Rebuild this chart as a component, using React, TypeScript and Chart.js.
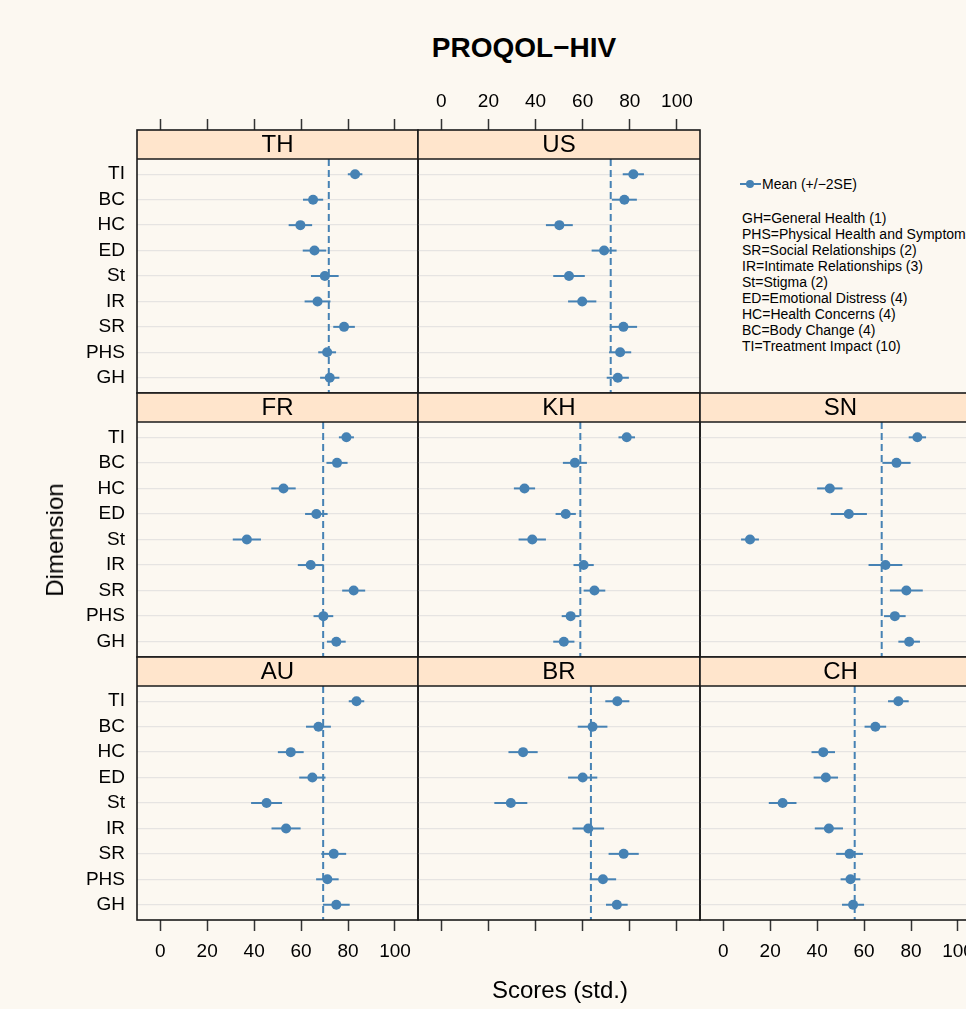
import React, { useEffect, useRef } from 'react';
import { Chart, registerables } from 'chart.js';

Chart.register(...registerables);

// ---------------- data ----------------
const categories = ['GH', 'PHS', 'SR', 'IR', 'St', 'ED', 'HC', 'BC', 'TI'];
const xTickValues = [0, 20, 40, 60, 80, 100];

const countries = ['TH', 'US', 'FR', 'KH', 'SN', 'AU', 'BR', 'CH'];

const meanTH = [72.2, 71.1, 78.3, 67.0, 70.1, 65.7, 59.7, 65.1, 83.0];
const errTH = [4.1, 3.8, 4.6, 5.5, 5.9, 5.0, 5.0, 4.3, 3.1];

const meanUS = [74.9, 75.9, 77.3, 59.8, 54.2, 69.1, 50.1, 77.7, 81.5];
const errUS = [4.7, 4.7, 5.8, 6.0, 6.7, 5.3, 5.7, 5.3, 4.5];

const meanFR = [75.0, 69.5, 82.4, 64.1, 36.9, 66.5, 52.5, 75.3, 79.3];
const errFR = [4.0, 4.2, 4.9, 5.5, 6.0, 4.8, 5.2, 4.5, 3.2];

const meanKH = [52.0, 54.9, 65.0, 60.4, 38.6, 52.8, 35.3, 56.7, 78.7];
const errKH = [4.5, 3.8, 4.6, 4.3, 5.8, 4.3, 4.5, 5.1, 3.5];

const meanSN = [79.2, 73.1, 78.0, 69.1, 11.4, 53.5, 45.4, 73.8, 82.7];
const errSN = [4.6, 4.6, 7.0, 7.2, 3.8, 7.7, 5.4, 6.0, 3.7];

const meanAU = [75.0, 71.2, 73.9, 53.6, 45.3, 64.8, 55.6, 67.4, 83.6];
const errAU = [5.7, 4.8, 5.3, 6.2, 6.6, 5.6, 5.5, 5.3, 3.3];

const meanBR = [74.5, 68.6, 77.4, 62.4, 29.5, 60.0, 34.7, 64.2, 74.7];
const errBR = [4.6, 5.6, 6.4, 6.7, 7.0, 6.2, 6.2, 6.3, 5.1];

const meanCH = [55.3, 54.2, 53.8, 45.0, 25.3, 43.7, 42.6, 64.8, 74.6];
const errCH = [4.7, 4.2, 5.7, 6.0, 5.9, 5.2, 5.0, 4.6, 4.4];

// overall mean (dashed reference line), in the order of `countries`
const refLines = [71.8, 71.9, 69.4, 59.0, 67.5, 69.4, 63.5, 56.0];

const legendTitle = 'Mean (+/\u22122SE)';
const legendLines = [
  'GH=General Health (1)',
  'PHS=Physical Health and Symptoms',
  'SR=Social Relationships (2)',
  'IR=Intimate Relationships (3)',
  'St=Stigma (2)',
  'ED=Emotional Distress (4)',
  'HC=Health Concerns (4)',
  'BC=Body Change (4)',
  'TI=Treatment Impact (10)',
];

const titleText = 'PROQOL\u2212HIV';
const xTitle = 'Scores (std.)';
const yTitle = 'Dimension';

// ---------------- style / layout ----------------
const FONT = '"Liberation Sans", Arial, Helvetica, sans-serif';
const BG = '#fcf8f1';
const BLUE = '#4682b4';
const STRIP_BG = '#ffe5cc';
const COL_LEFT = [137, 418, 700];
const COL_W = [281, 282, 281];
const ROW_TOP = [130, 393, 657];
const ROW_H = [263, 264, 263];
const STRIP = 29;
const PAD = 3;
const X_MIN = -9.9;
const X_MAX = 109.8;

Chart.defaults.font.family = FONT;

type AxisPos = 'top' | 'bottom' | null;

interface PanelProps {
  name: string;
  means: number[];
  errs: number[];
  refValue: number;
  col: number;
  row: number;
  xAxis: AxisPos;
  xLabels: boolean;
  yLabels: boolean;
}

function Panel(p: PanelProps) {
  const ref = useRef<HTMLCanvasElement>(null);
  const padL = p.yLabels ? 117 : 0;
  const padT = p.xAxis === 'top' ? 45 : 0;
  const padB = p.xAxis === 'bottom' ? 45 : 0;
  const cw = COL_W[p.col];
  const ch = ROW_H[p.row];
  const W = padL + cw + 2 * PAD;
  const H = padT + ch + padB + 2 * PAD;
  const left = COL_LEFT[p.col] - padL - PAD;
  const top = ROW_TOP[p.row] - padT - PAD;

  useEffect(() => {
    const yMax = 9.6 + (STRIP * 9.2) / (ch - STRIP);
    const zeroPad = (s: any) => {
      s.paddingTop = 0;
      s.paddingBottom = 0;
      s.paddingLeft = 0;
      s.paddingRight = 0;
    };
    const deco = {
      id: 'panelDeco',
      beforeDatasetsDraw(chart: any) {
        const { ctx, scales } = chart;
        const x = scales.x;
        const y = scales.y;
        const yTop = y.getPixelForValue(9.6);
        const yBot = y.getPixelForValue(0.4);
        ctx.save();
        ctx.strokeStyle = BLUE;
        ctx.lineWidth = 2;
        ctx.setLineDash([7, 4]);
        const rx = x.getPixelForValue(p.refValue);
        ctx.beginPath();
        ctx.moveTo(rx, yTop);
        ctx.lineTo(rx, yBot);
        ctx.stroke();
        ctx.setLineDash([]);
        p.means.forEach((m, i) => {
          const py = y.getPixelForValue(i + 1);
          ctx.beginPath();
          ctx.moveTo(x.getPixelForValue(m - p.errs[i]), py);
          ctx.lineTo(x.getPixelForValue(m + p.errs[i]), py);
          ctx.stroke();
        });
        ctx.restore();
      },
      afterDraw(chart: any) {
        const { ctx, chartArea: a } = chart;
        ctx.save();
        ctx.fillStyle = STRIP_BG;
        ctx.fillRect(a.left, a.top, a.right - a.left, STRIP);
        ctx.fillStyle = '#000';
        ctx.font = `24px ${FONT}`;
        ctx.textAlign = 'center';
        ctx.textBaseline = 'middle';
        ctx.fillText(p.name, (a.left + a.right) / 2, a.top + STRIP / 2 + 1);
        ctx.strokeStyle = '#1a1a1a';
        ctx.lineWidth = 1.6;
        ctx.strokeRect(a.left, a.top, a.right - a.left, a.bottom - a.top);
        ctx.beginPath();
        ctx.moveTo(a.left, a.top + STRIP);
        ctx.lineTo(a.right, a.top + STRIP);
        ctx.stroke();
        ctx.restore();
      },
    };

    const chart = new Chart(ref.current as HTMLCanvasElement, {
      type: 'scatter',
      data: {
        datasets: [
          {
            data: p.means.map((m, i) => ({ x: m, y: i + 1 })),
            backgroundColor: BLUE,
            borderColor: BLUE,
            borderWidth: 0,
            pointRadius: 5,
            pointHoverRadius: 5,
          },
        ],
      },
      options: {
        animation: false,
        responsive: false,
        maintainAspectRatio: false,
        events: [],
        layout: { padding: PAD, autoPadding: false },
        plugins: {
          legend: { display: false },
          tooltip: { enabled: false },
          title: { display: false },
        },
        scales: {
          x: {
            type: 'linear',
            min: X_MIN,
            max: X_MAX,
            bounds: 'data',
            position: p.xAxis || 'bottom',
            display: !!p.xAxis,
            afterBuildTicks: (s: any) => {
              s.ticks = xTickValues.map((v) => ({ value: v }));
            },
            afterFit: (s: any) => {
              s.height = p.xAxis === 'top' ? padT : padB;
              zeroPad(s);
            },
            grid: {
              drawOnChartArea: false,
              drawTicks: true,
              tickLength: 11,
              tickColor: '#333',
              tickWidth: 1.5,
            },
            border: { display: false },
            ticks: {
              display: p.xLabels,
              padding: p.xAxis === 'top' ? 6 : 9,
              color: '#000',
              font: { size: 19, family: FONT },
              maxRotation: 0,
              minRotation: 0,
              autoSkip: false,
              callback: (v: any) => String(v),
            },
          },
          y: {
            type: 'linear',
            min: 0.4,
            max: yMax,
            bounds: 'data',
            position: 'left',
            display: true,
            afterBuildTicks: (s: any) => {
              s.ticks = categories.map((_, i) => ({ value: i + 1 }));
            },
            afterFit: (s: any) => {
              s.width = padL;
              zeroPad(s);
            },
            grid: {
              drawOnChartArea: true,
              drawTicks: false,
              color: '#e6e4e2',
              lineWidth: 1.3,
            },
            border: { display: false },
            ticks: {
              display: p.yLabels,
              padding: 12,
              color: '#000',
              font: { size: 19, family: FONT },
              autoSkip: false,
              callback: (v: any) => categories[Math.round(Number(v)) - 1],
            },
          },
        },
      },
      plugins: [deco],
    } as any);
    return () => chart.destroy();
  }, []);

  return (
    <canvas
      ref={ref}
      width={W}
      height={H}
      style={{ position: 'absolute', left, top, width: W, height: H }}
    />
  );
}

const panelDefs: Omit<PanelProps, 'refValue'>[] = [
  { name: countries[0], means: meanTH, errs: errTH, col: 0, row: 0, xAxis: 'top', xLabels: false, yLabels: true },
  { name: countries[1], means: meanUS, errs: errUS, col: 1, row: 0, xAxis: 'top', xLabels: true, yLabels: false },
  { name: countries[2], means: meanFR, errs: errFR, col: 0, row: 1, xAxis: null, xLabels: false, yLabels: true },
  { name: countries[3], means: meanKH, errs: errKH, col: 1, row: 1, xAxis: null, xLabels: false, yLabels: false },
  { name: countries[4], means: meanSN, errs: errSN, col: 2, row: 1, xAxis: null, xLabels: false, yLabels: false },
  { name: countries[5], means: meanAU, errs: errAU, col: 0, row: 2, xAxis: 'bottom', xLabels: true, yLabels: true },
  { name: countries[6], means: meanBR, errs: errBR, col: 1, row: 2, xAxis: 'bottom', xLabels: false, yLabels: false },
  { name: countries[7], means: meanCH, errs: errCH, col: 2, row: 2, xAxis: 'bottom', xLabels: true, yLabels: false },
];

export default function App() {
  return (
    <div
      style={{
        position: 'absolute',
        left: 0,
        top: 0,
        width: 966,
        height: 1009,
        overflow: 'hidden',
        background: BG,
        fontFamily: FONT,
        color: '#000',
      }}
    >
      <div
        style={{
          position: 'absolute',
          left: 324,
          width: 400,
          top: 30,
          textAlign: 'center',
          fontSize: 28,
          fontWeight: 'bold',
          lineHeight: '36px',
        }}
      >
        {titleText}
      </div>
      {panelDefs.map((d, i) => (
        <Panel key={d.name} {...d} refValue={refLines[i]} />
      ))}
      {/* key */}
      <div style={{ position: 'absolute', left: 740, top: 183, width: 21, height: 2, background: BLUE }} />
      <div
        style={{
          position: 'absolute',
          left: 746,
          top: 180,
          width: 8,
          height: 8,
          borderRadius: 4,
          background: BLUE,
        }}
      />
      <div style={{ position: 'absolute', left: 762, top: 176, fontSize: 14, lineHeight: '16px', whiteSpace: 'nowrap' }}>
        {legendTitle}
      </div>
      <div style={{ position: 'absolute', left: 742, top: 209.5, fontSize: 14, lineHeight: '16.1px', whiteSpace: 'nowrap' }}>
        {legendLines.map((t) => (
          <div key={t}>{t}</div>
        ))}
      </div>
      <div
        style={{
          position: 'absolute',
          left: 55,
          top: 540,
          transform: 'translate(-50%, -50%) rotate(-90deg)',
          fontSize: 24,
          whiteSpace: 'nowrap',
        }}
      >
        {yTitle}
      </div>
      <div
        style={{
          position: 'absolute',
          left: 560,
          top: 990,
          transform: 'translate(-50%, -50%)',
          fontSize: 24,
          whiteSpace: 'nowrap',
        }}
      >
        {xTitle}
      </div>
    </div>
  );
}
